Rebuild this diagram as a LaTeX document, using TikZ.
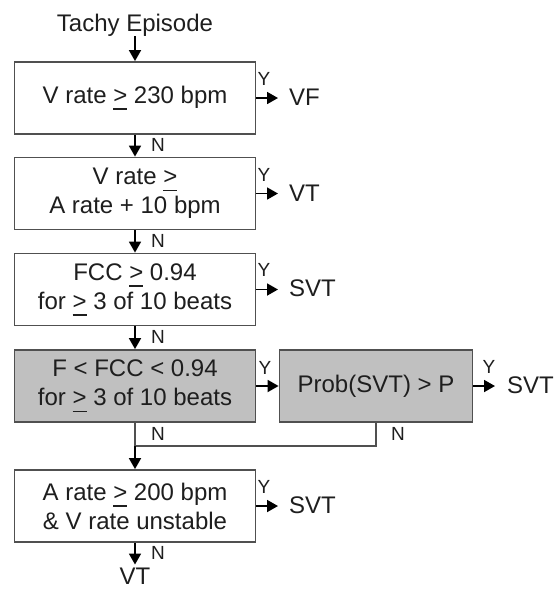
\documentclass[tikz,border=0pt]{standalone}
\usepackage{fontspec}
\setmainfont{Liberation Sans}
\usetikzlibrary{arrows.meta}
\definecolor{boxline}{RGB}{80,80,80}
\definecolor{boxfill}{RGB}{192,192,192}
\definecolor{txt}{RGB}{30,30,30}
\newcommand{\ulge}{\setbox0\hbox{>}\rlap{\rule[-6.5pt]{\wd0}{1.6pt}}\box0}
\begin{document}
\begin{tikzpicture}[x=1pt,y=-1pt,
  every node/.style={text=txt},
  decbox/.style={draw=boxline,line width=1.8pt,fill=white,minimum width=241pt,minimum height=72pt,
    inner sep=0pt,align=center,font=\fontsize{24}{29}\selectfont},
  graybox/.style={decbox,fill=boxfill},
  bigtext/.style={inner sep=0pt,font=\fontsize{24}{29}\selectfont},
  yn/.style={inner sep=0pt,font=\fontsize{19}{22}\selectfont},
  arr/.style={draw=black,line width=1.8pt,-{Triangle[length=11pt,width=12pt]}},
  ln/.style={draw=boxline,line width=1.8pt}
]
\useasboundingbox (0,0) rectangle (555,589);

\node[bigtext] (tachy) at (135,25) {Tachy Episode};

\node[decbox] (b1) at (135,98) {V rate \ulge{} 230 bpm};
\node[decbox] (b2) at (135,193.5) {V rate \ulge\\A rate + 10 bpm};
\node[decbox] (b3) at (135,289.5) {FCC \ulge{} 0.94\\for \ulge{} 3 of 10 beats};
\node[graybox] (b4) at (135,386) {F < FCC < 0.94\\for \ulge{} 3 of 10 beats};
\node[graybox,minimum width=193pt] (prob) at (376,386) {Prob(SVT) > P};
\node[decbox] (b5) at (135,506) {A rate \ulge{} 200 bpm\\\& V rate unstable};

\node[bigtext,anchor=west] (o1) at (289,97) {VF};
\node[bigtext,anchor=west] (o2) at (289,193) {VT};
\node[bigtext,anchor=west] (o3) at (289,288) {SVT};
\node[bigtext,anchor=west] (o4) at (507,385) {SVT};
\node[bigtext,anchor=west] (o5) at (289,505) {SVT};
\node[bigtext] (vt) at (135,576) {VT};

% arrows
\draw[arr] (tachy) -- (b1.north);
\draw[arr] (b1) -- (b2.north);
\draw[arr] (b2) -- (b3.north);
\draw[arr] (b3) -- (b4.north);
\draw[arr,shorten >=11pt] (b1.east) -- (o1.west |- b1.east);
\draw[arr,shorten >=11pt] (b2.east) -- (o2.west |- b2.east);
\draw[arr,shorten >=11pt] (b3.east) -- (o3.west |- b3.east);
\draw[arr] (b4.east) -- (prob.west);
\draw[arr,shorten >=12pt] (prob.east) -- (o4.west |- prob.east);
\draw[arr,shorten >=11pt] (b5.east) -- (o5.west |- b5.east);
\coordinate (m) at (135,446);
\draw[ln] (b4.south) -- (m);
\draw[ln] (prob.south) |- (m);
\draw[arr] (m) -- (b5.north);
\draw[arr,shorten >=3pt] (b5.south) -- (vt.north);

% labels
\node[yn] at (264,79) {Y};
\node[yn] at (264,175) {Y};
\node[yn] at (264,270) {Y};
\node[yn] at (265,368) {Y};
\node[yn] at (489,367) {Y};
\node[yn] at (264,487) {Y};
\node[yn] at (158,145) {N};
\node[yn] at (158,241) {N};
\node[yn] at (158,337) {N};
\node[yn] at (158,434) {N};
\node[yn] at (398,434) {N};
\node[yn] at (158,553) {N};
\end{tikzpicture}
\end{document}
